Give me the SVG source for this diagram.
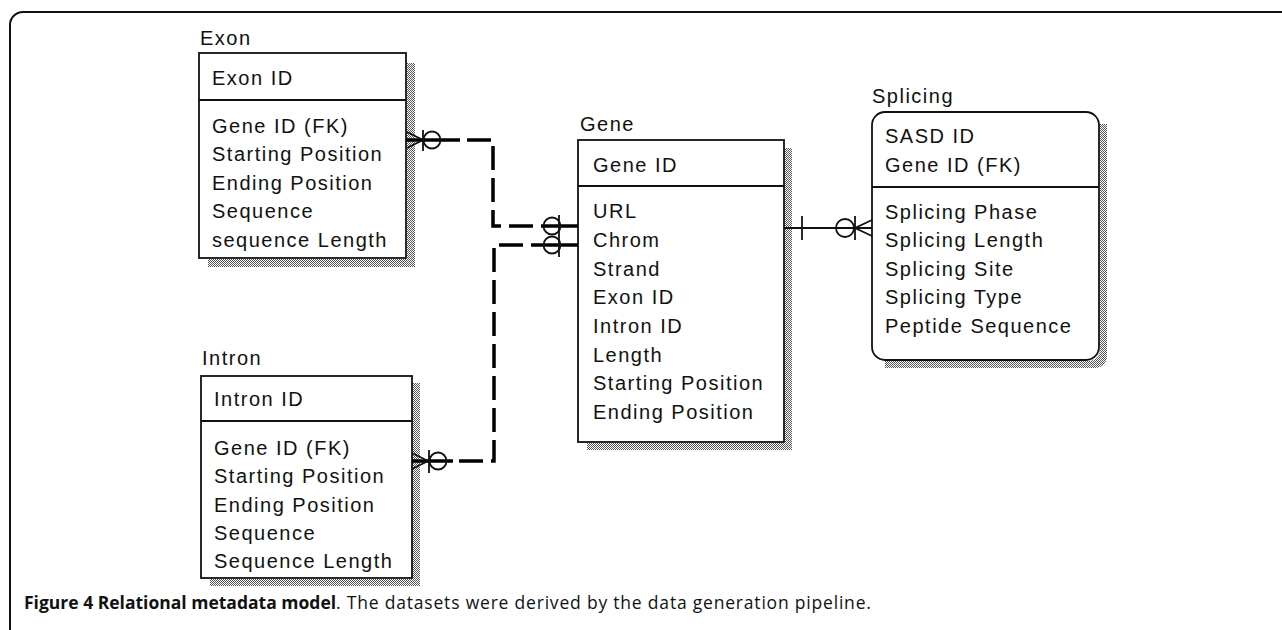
<svg xmlns="http://www.w3.org/2000/svg" width="1282" height="630" viewBox="0 0 1282 630">
<defs>
<pattern id="dots" width="2" height="2" patternUnits="userSpaceOnUse"><rect width="1" height="1" fill="#555"/><rect x="1" y="1" width="1" height="1" fill="#555"/></pattern>
<style>
.box{fill:#fff;stroke:#111;stroke-width:1.8}
.div{stroke:#111;stroke-width:1.8}
.sh{fill:url(#dots)}
.t{font-family:"Liberation Sans",Arial,sans-serif;font-size:20px;letter-spacing:1.5px;fill:#111}
.dash{fill:none;stroke:#000;stroke-width:3.5;stroke-dasharray:24 8}
.sol{fill:none;stroke:#000;stroke-width:3.5}
.thin{fill:none;stroke:#111;stroke-width:1.8}
.cap{font-family:"Open Sans","Liberation Sans",sans-serif;font-size:17.5px;fill:#111}
</style>
</defs>
<rect width="1282" height="630" fill="#fff"/>
<path d="M10,630 V25 A13,13 0 0 1 23,12 H1282" fill="none" stroke="#111" stroke-width="2"/>

<g id="exon">
<rect class="sh" x="407" y="63" width="8" height="204"/>
<rect class="sh" x="208" y="259" width="207" height="8"/>
<rect class="box" x="199" y="53" width="207" height="205"/>
<line class="div" x1="199" y1="100" x2="406" y2="100"/>
<text class="t" x="200" y="45">Exon</text>
<text class="t" x="212" y="85">Exon ID</text>
<text class="t" x="212" y="133">Gene ID (FK)</text>
<text class="t" x="212" y="161">Starting Position</text>
<text class="t" x="212" y="190">Ending Position</text>
<text class="t" x="212" y="218">Sequence</text>
<text class="t" x="212" y="247">sequence Length</text>
</g>

<g id="intron">
<rect class="sh" x="412" y="383" width="8" height="203"/>
<rect class="sh" x="210" y="579" width="210" height="7"/>
<rect class="box" x="201" y="376" width="211" height="202"/>
<line class="div" x1="201" y1="421" x2="412" y2="421"/>
<text class="t" x="202" y="365">Intron</text>
<text class="t" x="214" y="406">Intron ID</text>
<text class="t" x="214" y="455">Gene ID (FK)</text>
<text class="t" x="214" y="483">Starting Position</text>
<text class="t" x="214" y="512">Ending Position</text>
<text class="t" x="214" y="540">Sequence</text>
<text class="t" x="214" y="568">Sequence Length</text>
</g>

<g id="gene">
<rect class="sh" x="785" y="148" width="7" height="302"/>
<rect class="sh" x="587" y="443" width="205" height="7"/>
<rect class="box" x="578" y="140" width="206" height="302"/>
<line class="div" x1="578" y1="186" x2="784" y2="186"/>
<text class="t" x="580" y="131">Gene</text>
<text class="t" x="593" y="172">Gene ID</text>
<text class="t" x="593" y="218">URL</text>
<text class="t" x="593" y="247">Chrom</text>
<text class="t" x="593" y="276">Strand</text>
<text class="t" x="593" y="304">Exon ID</text>
<text class="t" x="593" y="333">Intron ID</text>
<text class="t" x="593" y="362">Length</text>
<text class="t" x="593" y="390">Starting Position</text>
<text class="t" x="593" y="419">Ending Position</text>
</g>

<g id="splicing">
<path class="sh" d="M1100,124 H1107 V356 A12,12 0 0 1 1095,368 H885 V361 H1088 A12,12 0 0 0 1100,349 Z"/>
<rect class="box" x="872" y="112" width="227" height="248" rx="13" ry="13"/>
<line class="div" x1="872" y1="187" x2="1099" y2="187"/>
<text class="t" x="872" y="103">Splicing</text>
<text class="t" x="885" y="143">SASD ID</text>
<text class="t" x="885" y="172">Gene ID (FK)</text>
<text class="t" x="885" y="219">Splicing Phase</text>
<text class="t" x="885" y="247">Splicing Length</text>
<text class="t" x="885" y="276">Splicing Site</text>
<text class="t" x="885" y="304">Splicing Type</text>
<text class="t" x="885" y="333">Peptide Sequence</text>
</g>

<g id="connectors">
<line class="sol" x1="406" y1="140" x2="460" y2="140"/>
<path class="dash" d="M467,140 H493 V226 H543"/>
<line class="sol" x1="543" y1="226" x2="578" y2="226"/>
<path class="thin" d="M407,132 L423,140 L407,148 M423,130 V151"/>
<circle class="thin" cx="432" cy="140" r="8.5"/>
<circle class="thin" cx="552" cy="226" r="8.5"/>
<line class="sol" x1="412" y1="461" x2="453" y2="461"/>
<path class="dash" d="M459,461 H494 V245 H543"/>
<line class="sol" x1="543" y1="245" x2="578" y2="245"/>
<path class="thin" d="M412,453 L428,461 L412,469 M429,450 V473"/>
<circle class="thin" cx="438" cy="461" r="8.5"/>
<circle class="thin" cx="552" cy="245" r="8.5"/>
<line class="thin" x1="559" y1="215" x2="559" y2="257"/>
<line class="thin" x1="784" y1="228" x2="872" y2="228"/>
<line class="thin" x1="802" y1="216" x2="802" y2="240"/>
<circle class="thin" cx="845" cy="228" r="9"/>
<path class="thin" d="M855,216 V240 M872,220 L855,228 L872,236"/>
</g>

<text class="cap" x="24" y="609"><tspan font-weight="bold">Figure 4 Relational metadata model</tspan><tspan letter-spacing="0.8">. The datasets were derived by the data generation pipeline.</tspan></text>
</svg>
